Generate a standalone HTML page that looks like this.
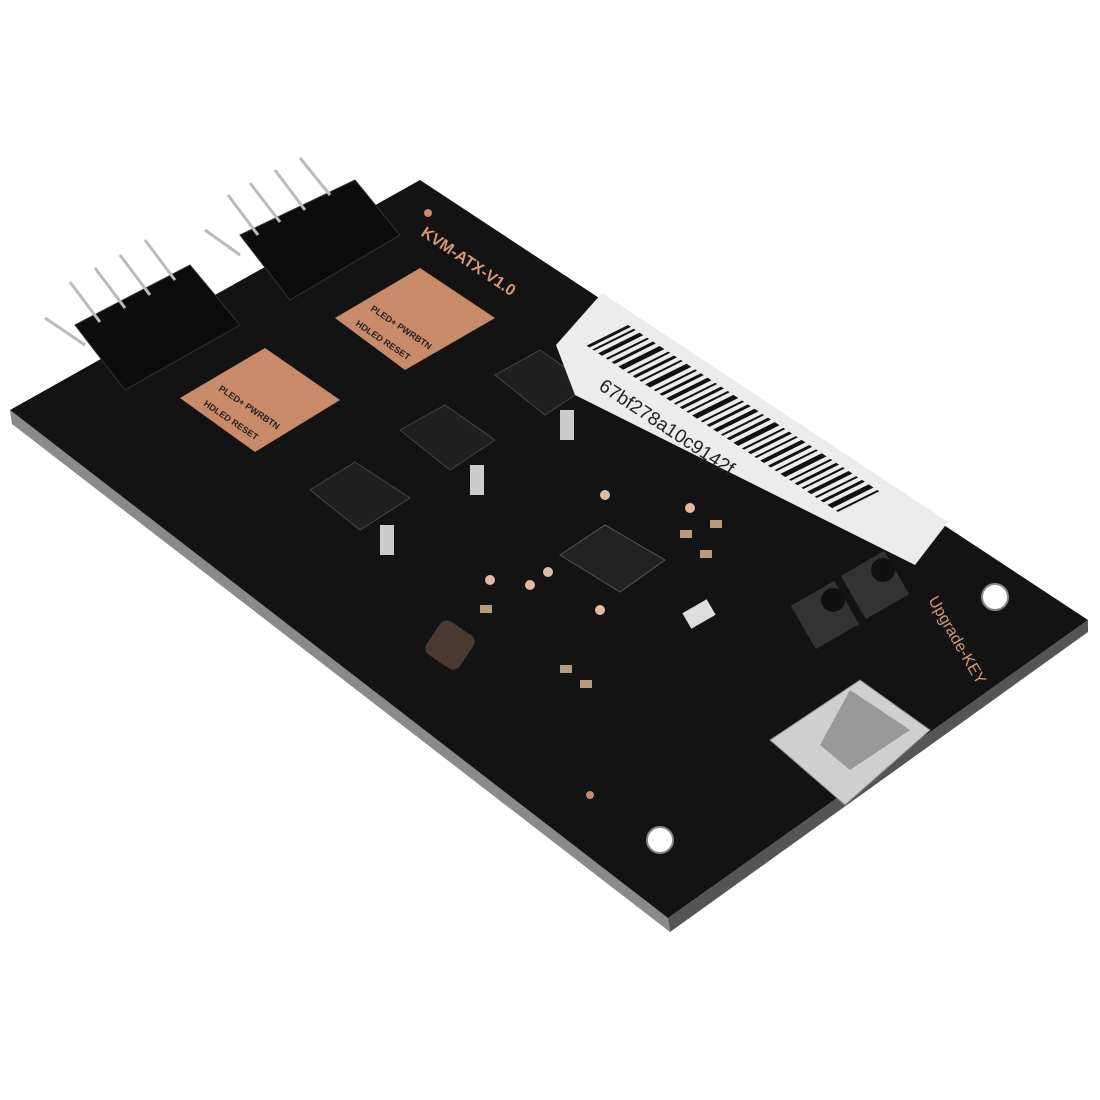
<!DOCTYPE html>
<html><head><meta charset="utf-8"><style>html,body{margin:0;padding:0;background:#fff;}svg{display:block}</style></head>
<body>
<svg width="1100" height="1100" viewBox="0 0 1100 1100" xmlns="http://www.w3.org/2000/svg" font-family="Liberation Sans, sans-serif">
<polygon points="10,410 668,918 670,932 12,424" fill="#8a8a8a"/>
<polygon points="668,918 1088,620 1088,632 670,932" fill="#555"/>
<polygon points="10,410 420,180 1088,620 668,918" fill="#131313"/>
<circle cx="995" cy="597" r="13" fill="#fff" stroke="#888" stroke-width="2"/>
<circle cx="660" cy="840" r="13" fill="#fff" stroke="#888" stroke-width="2"/>
<circle cx="428" cy="213" r="4" fill="#c98a6a"/>
<circle cx="590" cy="795" r="4" fill="#c98a6a"/>
<g transform="translate(420,235) rotate(34)"><text font-size="16" fill="#d49a78" font-weight="bold">KVM-ATX-V1.0</text></g>
<polygon points="335,318 420,268 495,318 405,370" fill="#c98a6a"/>
<polygon points="180,398 265,348 340,400 255,452" fill="#c98a6a"/>
<g font-size="9" fill="#222" font-weight="bold">
<text transform="translate(370,310) rotate(34)">PLED+ PWRBTN</text>
<text transform="translate(355,325) rotate(34)">HDLED RESET</text>
<text transform="translate(218,390) rotate(34)">PLED+ PWRBTN</text>
<text transform="translate(203,405) rotate(34)">HDLED RESET</text>
</g>
<g fill="#0c0c0c" stroke="#333">
<polygon points="240,235 355,180 400,235 290,300"/>
<polygon points="75,325 190,265 240,325 125,390"/>
</g>
<g stroke="#bbb" stroke-width="3">
<line x1="300" y1="158" x2="330" y2="195"/><line x1="275" y1="170" x2="305" y2="210"/><line x1="250" y1="183" x2="280" y2="222"/><line x1="228" y1="195" x2="258" y2="235"/><line x1="205" y1="230" x2="240" y2="255"/>
<line x1="145" y1="240" x2="175" y2="280"/><line x1="120" y1="255" x2="150" y2="295"/><line x1="95" y1="268" x2="125" y2="308"/><line x1="70" y1="282" x2="100" y2="322"/><line x1="45" y1="318" x2="85" y2="345"/>
</g>
<g fill="#1f1f1f" stroke="#444">
<polygon points="495,375 540,350 590,385 545,415"/>
<polygon points="400,430 445,405 495,440 450,470"/>
<polygon points="310,490 355,462 410,498 360,530"/>
</g>
<g fill="#ccc"><rect x="560" y="410" width="14" height="30"/><rect x="470" y="465" width="14" height="30"/><rect x="380" y="525" width="14" height="30"/></g>
<polygon points="556,345 602,293 948,522 915,565 575,395" fill="#ececec"/>
<g transform="translate(628,325) rotate(33.5)">
<g fill="#111" transform="skewX(-30) scale(1.15,1)">
<rect x="0" y="0" width="3" height="40"/><rect x="6" y="0" width="2" height="40"/><rect x="12" y="0" width="4" height="40"/><rect x="20" y="0" width="2" height="40"/><rect x="26" y="0" width="3" height="40"/><rect x="33" y="0" width="5" height="40"/><rect x="42" y="0" width="2" height="40"/><rect x="48" y="0" width="3" height="40"/><rect x="55" y="0" width="2" height="40"/><rect x="61" y="0" width="5" height="40"/><rect x="70" y="0" width="2" height="40"/><rect x="76" y="0" width="3" height="40"/><rect x="83" y="0" width="4" height="40"/><rect x="91" y="0" width="2" height="40"/><rect x="97" y="0" width="3" height="40"/><rect x="104" y="0" width="2" height="40"/><rect x="110" y="0" width="5" height="40"/><rect x="119" y="0" width="2" height="40"/><rect x="125" y="0" width="3" height="40"/><rect x="132" y="0" width="4" height="40"/><rect x="140" y="0" width="2" height="40"/><rect x="146" y="0" width="3" height="40"/><rect x="153" y="0" width="5" height="40"/><rect x="162" y="0" width="2" height="40"/><rect x="168" y="0" width="3" height="40"/><rect x="175" y="0" width="2" height="40"/><rect x="181" y="0" width="4" height="40"/><rect x="189" y="0" width="3" height="40"/><rect x="196" y="0" width="2" height="40"/><rect x="202" y="0" width="5" height="40"/><rect x="211" y="0" width="2" height="40"/><rect x="217" y="0" width="3" height="40"/><rect x="224" y="0" width="2" height="40"/><rect x="230" y="0" width="4" height="40"/><rect x="238" y="0" width="2" height="40"/><rect x="244" y="0" width="3" height="40"/><rect x="251" y="0" width="5" height="40"/><rect x="260" y="0" width="2" height="40"/>
</g>
<text x="10" y="70" font-size="19" fill="#222">67bf278a10c9142f</text>
</g>
<polygon points="560,555 605,525 665,560 620,592" fill="#222" stroke="#555"/>
<rect x="430" y="625" width="40" height="40" rx="8" fill="#4a3a30" transform="rotate(34 450 645)"/>
<g fill="#b89a7a">
<rect x="480" y="605" width="12" height="8"/><rect x="560" y="665" width="12" height="8"/><rect x="580" y="680" width="12" height="8"/><rect x="680" y="530" width="12" height="8"/><rect x="700" y="550" width="12" height="8"/><rect x="710" y="520" width="12" height="8"/>
</g>
<g fill="#e3b9a0"><circle cx="548" cy="572" r="5"/><circle cx="530" cy="585" r="5"/><circle cx="600" cy="610" r="5"/><circle cx="490" cy="580" r="5"/><circle cx="605" cy="495" r="5"/><circle cx="690" cy="508" r="5"/></g>
<rect x="685" y="605" width="28" height="18" fill="#ddd" transform="rotate(-30 699 614)"/>
<rect x="800" y="590" width="50" height="50" fill="#333" transform="rotate(-30 825 615)"/>
<circle cx="833" cy="600" r="12" fill="#111"/>
<rect x="850" y="560" width="50" height="50" fill="#333" transform="rotate(-30 875 585)"/>
<circle cx="883" cy="570" r="12" fill="#111"/>
<g transform="translate(928,600) rotate(60)"><text font-size="16" fill="#d49a78">Upgrade-KEY</text></g>
<polygon points="770,740 860,680 930,730 845,805" fill="#cfcfcf" stroke="#888"/>
<polygon points="850,690 910,730 850,770 820,745" fill="#999"/>
</svg>
</body></html>
